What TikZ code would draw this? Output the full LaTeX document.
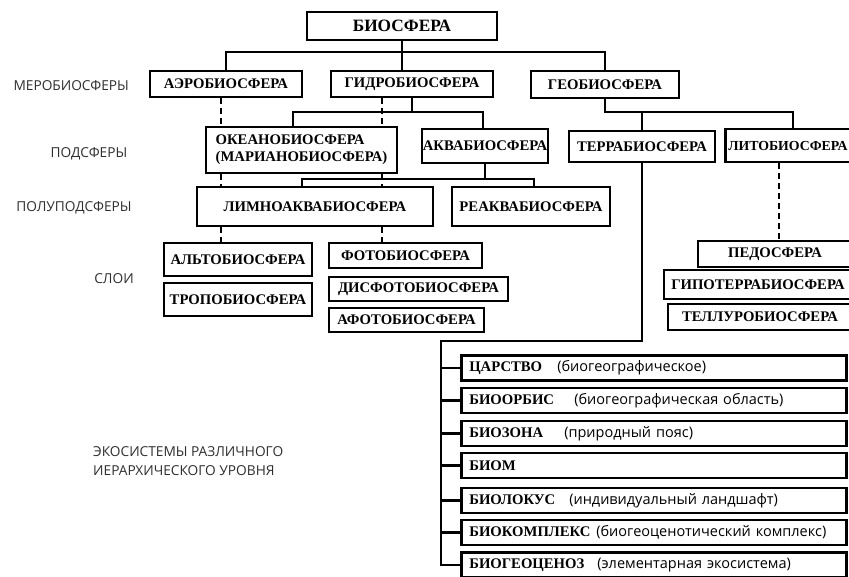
\documentclass[tikz,border=0pt]{standalone}
\usepackage{fontspec}
\setmainfont{Liberation Serif}
\newfontfamily\labfont{Open Sans}
\begin{document}
\begin{tikzpicture}[x=1pt,y=-1pt,
  box/.style={draw, line width=2.6pt, fill=white, inner sep=0pt, font=\bfseries\fontsize{14.7}{17}\selectfont, align=center},
  conn/.style={line width=2.2pt},
  dsh/.style={line width=2.2pt, dash pattern=on 6pt off 4pt},
  lab/.style={font=\labfont\fontsize{13.7}{19}\selectfont, text=black!82, inner sep=0pt},
  lvl/.style={box, anchor=west, minimum height=25pt, text width=369pt, inner xsep=8pt, align=left}]
\useasboundingbox (0,0) rectangle (849,576);
\clip (0,0) rectangle (849,576);
% top
\node[box, minimum width=190pt, minimum height=28pt, font=\bfseries\fontsize{17.3}{19}\selectfont] (bio) at (402,26) {БИОСФЕРА};
\node[box, minimum width=152pt, minimum height=26pt] (aero) at (226,84) {АЭРОБИОСФЕРА};
\node[box, minimum width=162pt, minimum height=26pt] (hydro) at (412,84) {ГИДРОБИОСФЕРА};
\node[box, minimum width=148pt, minimum height=27pt] (geo) at (605,84.5) {ГЕОБИОСФЕРА};
% subspheres
\node[box, minimum width=191pt, minimum height=46pt, align=left] (okeano) at (301.5,150) {ОКЕАНОБИОСФЕРА\\(МАРИАНОБИОСФЕРА)};
\node[box, minimum width=126pt, minimum height=34pt] (aqua) at (485,146) {АКВАБИОСФЕРА};
\node[box, minimum width=146pt, minimum height=31pt] (terra) at (642,146.5) {ТЕРРАБИОСФЕРА};
\node[box, anchor=west, minimum height=33pt, text width=140pt, inner xsep=3pt, align=left, font=\bfseries\fontsize{13.8}{17}\selectfont] (lito) at (724,145.5) {ЛИТОБИОСФЕРА};
% semi-subspheres
\node[box, minimum width=236pt, minimum height=39pt] (limno) at (315,206.5) {ЛИМНОАКВАБИОСФЕРА};
\node[box, minimum width=158pt, minimum height=39pt] (reaqua) at (531,206.5) {РЕАКВАБИОСФЕРА};
% layers
\node[box, minimum width=148pt, minimum height=33pt] (alto) at (238,259.5) {АЛЬТОБИОСФЕРА};
\node[box, minimum width=148pt, minimum height=33pt] (tropo) at (238,299.5) {ТРОПОБИОСФЕРА};
\node[box, minimum width=153pt, minimum height=25pt] (foto) at (405.5,255.5) {ФОТОБИОСФЕРА};
\node[box, minimum width=179pt, minimum height=24pt] (disfoto) at (418.5,289) {ДИСФОТОБИОСФЕРА};
\node[box, minimum width=155pt, minimum height=24pt] (afoto) at (406.5,320) {АФОТОБИОСФЕРА};
\node[box, minimum width=154pt, minimum height=26pt] (pedo) at (775,254) {ПЕДОСФЕРА};
\node[box, minimum width=188pt, minimum height=29pt] (hypo) at (758,284.5) {ГИПОТЕРРАБИОСФЕРА};
\node[box, minimum width=184pt, minimum height=26pt] (tellur) at (760,317) {ТЕЛЛУРОБИОСФЕРА};
% ecosystem levels
\newcommand{\pr}[1]{{\labfont\mdseries\fontsize{14.5}{16}\selectfont #1}}
\node[lvl] (r1) at (460,368) {\makebox[88pt][l]{ЦАРСТВО}\pr{(биогеографическое)}};
\node[lvl] (r2) at (460,400.5) {\makebox[105pt][l]{БИООРБИС}\pr{(биогеографическая область)}};
\node[lvl] (r3) at (460,433.5) {\makebox[95pt][l]{БИОЗОНА}\pr{(природный пояс)}};
\node[lvl] (r4) at (460,465.5) {БИОМ};
\node[lvl] (r5) at (460,500.5) {\makebox[100pt][l]{БИОЛОКУС}\pr{(индивидуальный ландшафт)}};
\node[lvl] (r6) at (460,532.5) {\makebox[127pt][l]{БИОКОМПЛЕКС}\pr{(биогеоценотический комплекс)}};
\node[lvl] (r7) at (460,565) {\makebox[128pt][l]{БИОГЕОЦЕНОЗ}\pr{(элементарная экосистема)}};
% left labels
\node[lab, anchor=east] (mero) at (129,86) {МЕРОБИОСФЕРЫ};
\node[lab] (pods) at (89,154) {ПОДСФЕРЫ};
\node[lab] (polu) at (74,208) {ПОЛУПОДСФЕРЫ};
\node[lab] (sloi) at (114,279) {СЛОИ};
\node[lab, anchor=west, align=left] (eco) at (93,461.5) {ЭКОСИСТЕМЫ РАЗЛИЧНОГО\\ИЕРАРХИЧЕСКОГО УРОВНЯ};
% connectors
\coordinate (b1) at (402,52);
\draw[conn] (bio.south) -- (b1);
\draw[conn] (aero.north) |- (b1) -| (geo.north);
\draw[conn] (hydro.north -| b1) -- (b1);
\coordinate (h1) at (412,112);
\coordinate (xo) at (293,112);
\coordinate (xa) at (483,112);
\draw[conn] (hydro.south) -- (h1);
\draw[conn] (okeano.north -| xo) -- (xo) -- (xa) -- (aqua.north -| xa);
\coordinate (gl) at (793,112);
\draw[conn] (geo.south) |- (gl) -- (lito.north -| gl);
\draw[conn] (terra.north) -- (terra.north |- gl);
\coordinate (a1) at (302,179);
\coordinate (a2) at (534,179);
\draw[conn] (aqua.south) -- (aqua.south |- a1);
\draw[conn] (limno.north -| a1) -- (a1) -- (a2) -- (reaqua.north -| a2);
% dashed
\coordinate (d1) at (221,0);
\coordinate (d2) at (382,0);
\draw[dsh] (aero.south -| d1) -- (okeano.north -| d1);
\draw[dsh] (okeano.south -| d1) -- (limno.north -| d1);
\draw[dsh] (limno.south -| d1) -- (alto.north -| d1);
\draw[dsh] (hydro.south -| d2) -- (okeano.north -| d2);
\draw[dsh] (okeano.south -| d2) -- (limno.north -| d2);
\draw[dsh] (limno.south -| d2) -- (foto.north -| d2);
\coordinate (d3) at (779,0);
\draw[dsh] (lito.south -| d3) -- (pedo.north -| d3);
% terra bracket
\coordinate (tc) at (441,341);
\draw[conn] (terra.south) |- (tc) -- (r7.west -| tc) -- (r7.west);
\foreach \r in {r1,r2,r3,r4,r5,r6} \draw[conn] (\r.west -| tc) -- (\r.west);
\end{tikzpicture}
\end{document}
